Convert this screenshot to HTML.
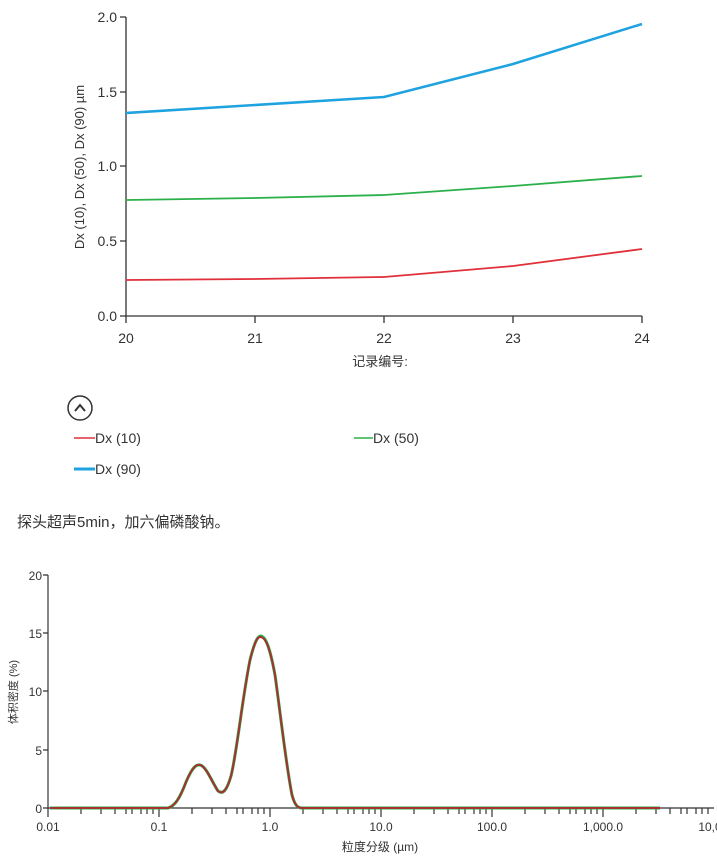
<!DOCTYPE html>
<html><head><meta charset="utf-8"><style>
body{margin:0;background:#fff;width:717px;height:866px;overflow:hidden;font-family:"Liberation Sans","Noto Sans CJK SC",sans-serif}
svg{position:absolute;left:0;top:0}
</style></head><body>
<svg width="717" height="866" xmlns="http://www.w3.org/2000/svg" font-family="Liberation Sans, Noto Sans CJK SC, sans-serif">
<!-- top chart -->
<g stroke="#333" stroke-width="1.3" fill="none">
<path d="M126,17V316H642"/>
<path d="M120,17H126M120,92H126M120,166H126M120,241H126M120,316H126"/>
<path d="M126,316V323M255,316V323M384,316V323M513,316V323M642,316V323"/>
</g>
<g font-size="14" fill="#333" text-anchor="end">
<text x="117" y="22">2.0</text><text x="117" y="97">1.5</text><text x="117" y="171">1.0</text><text x="117" y="246">0.5</text><text x="117" y="321">0.0</text>
</g>
<g font-size="14" fill="#333" text-anchor="middle">
<text x="126" y="343">20</text><text x="255" y="343">21</text><text x="384" y="343">22</text><text x="513" y="343">23</text><text x="642" y="343">24</text>
<text x="380" y="366" font-size="13">记录编号:</text>
</g>
<text transform="translate(84,167) rotate(-90)" font-size="13" fill="#333" text-anchor="middle">Dx (10), Dx (50), Dx (90) µm</text>
<path d="M126,113L384,97L513,64L642,24" stroke="#1ea3e0" stroke-width="2.5" fill="none"/>
<path d="M126,200L255,198L384,195L513,186L642,176" stroke="#2bb04a" stroke-width="1.8" fill="none"/>
<path d="M126,280L255,279L384,277L513,266L642,249" stroke="#e0303a" stroke-width="1.8" fill="none"/>
<!-- legend -->
<circle cx="80" cy="408" r="12" stroke="#333" stroke-width="1.5" fill="none"/>
<path d="M75,411L80,405L85,411" stroke="#333" stroke-width="2" fill="none"/>
<path d="M74,438H95" stroke="#e0303a" stroke-width="1.5"/>
<text x="95" y="443" font-size="14" fill="#333">Dx (10)</text>
<path d="M354,438H373" stroke="#2bb04a" stroke-width="1.5"/>
<text x="373" y="443" font-size="14" fill="#333">Dx (50)</text>
<path d="M74,469H95" stroke="#1ea3e0" stroke-width="3"/>
<text x="95" y="474" font-size="14" fill="#333">Dx (90)</text>
<text x="17" y="527" font-size="15" fill="#333">探头超声5min，加六偏磷酸钠。</text>
<!-- bottom chart -->
<g stroke="#333" stroke-width="1.2" fill="none">
<path d="M48,575V808H714"/>
<path d="M43,575H48M43,633H48M43,691H48M43,750H48M43,808H48"/>
<path id="dec" d="M48,808V817M81,808V814M101,808V814M115,808V814M126,808V814M132,808V814M141,808V814M147,808V814M153,808V814"/>
<use href="#dec" x="111"/><use href="#dec" x="222"/><use href="#dec" x="333"/><use href="#dec" x="444"/><use href="#dec" x="555"/>
</g>
<g font-size="12" fill="#333" text-anchor="end">
<text x="42" y="580">20</text><text x="42" y="638">15</text><text x="42" y="696">10</text><text x="42" y="755">5</text><text x="42" y="813">0</text>
</g>
<g font-size="12" fill="#333" text-anchor="middle">
<text x="48" y="831">0.01</text><text x="159" y="831">0.1</text><text x="270" y="831">1.0</text><text x="381" y="831">10.0</text><text x="492" y="831">100.0</text><text x="603" y="831">1,000.0</text><text x="710" y="831">10,0</text>
<text x="380" y="851">粒度分级 (µm)</text>
</g>
<text transform="translate(17,692) rotate(-90)" font-size="11" fill="#333" text-anchor="middle">体积密度 (%)</text>
<path d="M50,808L168,808C175,806 180,798 186,782C192,768 196,764 200,765C206,766 212,782 218,791C223,795 227,790 231,776C237,752 242,700 250,660C255,640 258,636 261,636C266,637 270,648 275,675C280,710 286,765 292,795C295,806 298,808 302,808L660,808" stroke="#2bb04a" stroke-width="3" fill="none"/>
<path d="M50,808L168,808C175,806 180,798 186,782C192,768 196,764 200,765C206,766 212,782 218,791C223,795 227,790 231,776C237,752 242,700 250,660C255,640 258,636 261,637C266,638 270,648 275,675C280,710 286,765 292,795C295,806 298,808 302,808L660,808" stroke="#a83030" stroke-width="2" fill="none"/>
</svg>
</body></html>
